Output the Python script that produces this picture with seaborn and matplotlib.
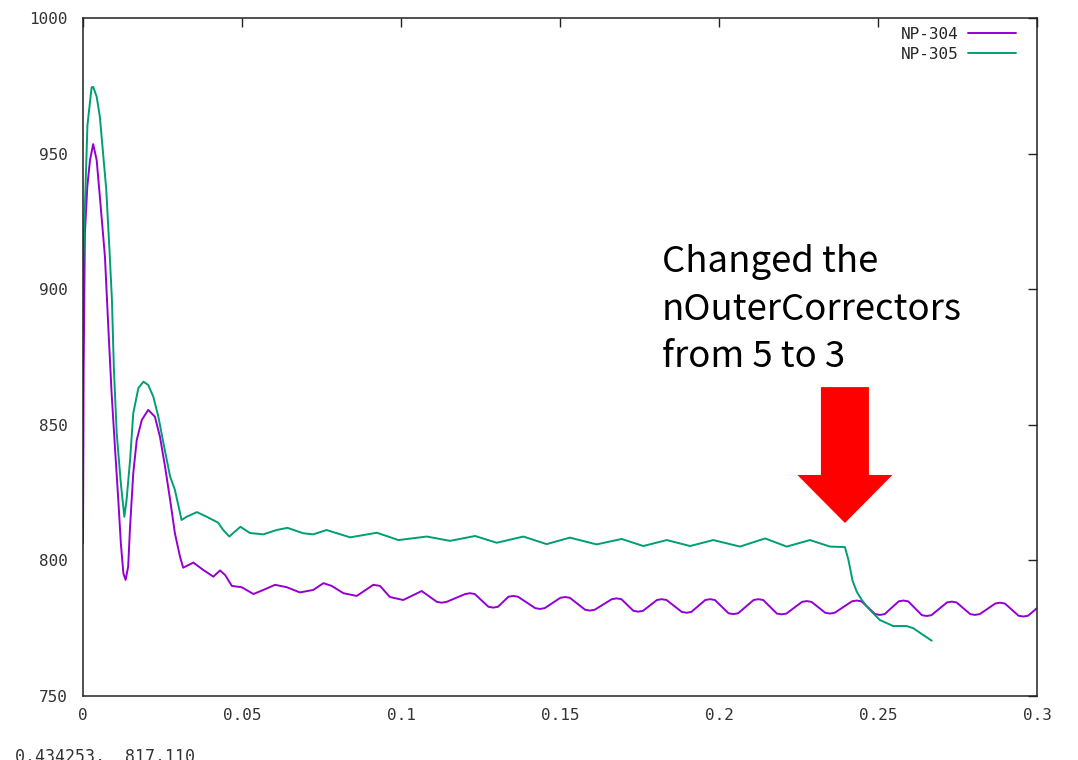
import numpy as np
import pandas as pd
import matplotlib
matplotlib.use("Agg")
import matplotlib.pyplot as plt
from matplotlib.patches import FancyArrow
from matplotlib.lines import Line2D
import seaborn as sns

# ---------------- data ----------------
series_names = ["NP-304", "NP-305"]
series_colors = ["#9400D3", "#009E73"]

np304_x = [0.0000, 0.0002, 0.0006, 0.00135, 0.0022, 0.0032, 0.0043, 0.0053, 0.0069, 0.0080,
           0.0090, 0.0101, 0.0111, 0.0119, 0.0127, 0.0134, 0.0142, 0.0148, 0.0158, 0.0169,
           0.0185, 0.0205, 0.0226, 0.0242, 0.0258, 0.0274, 0.0289, 0.0305, 0.0315, 0.0347,
           0.0378, 0.0410, 0.0431, 0.0447, 0.0468, 0.0499, 0.0536, 0.0567, 0.0604, 0.0641,
           0.0682, 0.0724, 0.0756, 0.0782, 0.0819, 0.0861, 0.0913, 0.0934, 0.0965, 0.1007,
           0.1065,
           0.1113, 0.1128, 0.1143, 0.1202, 0.1217, 0.1232, 0.1275, 0.1290, 0.1305,
           0.1338, 0.1353, 0.1368, 0.1422, 0.1437, 0.1452, 0.1501, 0.1516, 0.1531,
           0.1579, 0.1594, 0.1609, 0.1663, 0.1678, 0.1693, 0.1731, 0.1746, 0.1761,
           0.1805, 0.1820, 0.1835, 0.1883, 0.1898, 0.1913, 0.1957, 0.1972, 0.1987,
           0.2030, 0.2045, 0.2060, 0.2109, 0.2124, 0.2139, 0.2182, 0.2197, 0.2212,
           0.2261, 0.2276, 0.2291, 0.2334, 0.2349, 0.2364, 0.2418, 0.2433, 0.2448,
           0.2491, 0.2506, 0.2521, 0.2565, 0.2580, 0.2595, 0.2638, 0.2653, 0.2668,
           0.2717, 0.2732, 0.2747, 0.2790, 0.2805, 0.2820, 0.2869, 0.2884, 0.2899,
           0.2942, 0.2957, 0.2972, 0.2999]
np304_y = [806.3, 870.0, 920.6, 937.8, 947.6, 953.5, 947.6, 934.1, 912.0, 885.0,
           861.6, 840.7, 822.3, 806.3, 795.2, 792.8, 797.7, 812.4, 832.1, 844.4,
           851.8, 855.5, 853.0, 845.6, 834.6, 822.3, 810.0, 801.4, 797.3, 799.2,
           796.5, 794.0, 796.3, 794.6, 790.6, 790.1, 787.6, 789.1, 791.0, 790.1,
           788.2, 789.1, 791.6, 790.6, 787.9, 786.9, 791.0, 790.6, 786.5, 785.4,
           788.7,
           784.7, 784.4, 784.7, 787.6, 787.9, 787.6, 782.9, 782.6, 782.9,
           786.6, 786.9, 786.6, 782.4, 782.1, 782.4, 786.2, 786.5, 786.2,
           781.8, 781.5, 781.8, 785.7, 786.0, 785.7, 781.4, 781.1, 781.4,
           785.4, 785.7, 785.4, 781.0, 780.7, 781.0, 785.4, 785.7, 785.4,
           780.5, 780.2, 780.5, 785.4, 785.7, 785.4, 780.4, 780.1, 780.4,
           784.7, 785.0, 784.7, 780.7, 780.4, 780.7, 784.9, 785.2, 784.9,
           780.2, 779.9, 780.2, 784.9, 785.2, 784.9, 779.8, 779.5, 779.8,
           784.5, 784.8, 784.5, 780.2, 779.9, 780.2, 784.1, 784.4, 784.1,
           779.6, 779.3, 779.6, 782.3]

np305_x = [0.0000, 0.00005, 0.0006, 0.0014, 0.0027, 0.0032, 0.0043, 0.0053, 0.0073, 0.0083,
           0.0091, 0.0097, 0.0106, 0.0119, 0.0130, 0.0137, 0.0148, 0.0158, 0.0174, 0.0190,
           0.0205, 0.0221, 0.0237, 0.0253, 0.0274, 0.0289, 0.0310, 0.0326, 0.0358, 0.0389,
           0.0425, 0.0441, 0.0460, 0.0495, 0.0525, 0.0567, 0.0609, 0.0643, 0.0693, 0.0724,
           0.0766, 0.0840, 0.0924, 0.0992, 0.1081, 0.1154, 0.1233, 0.1301, 0.1385, 0.1458,
           0.1531, 0.1615, 0.1694, 0.1762, 0.1836, 0.1909, 0.1982, 0.2066, 0.2145, 0.2213,
           0.2286, 0.2349, 0.2396, 0.2407, 0.2420, 0.2433, 0.2449, 0.2465, 0.2475, 0.2506,
           0.2548, 0.2590, 0.2611, 0.2642, 0.2669]
np305_y = [878.8, 908.3, 930.4, 960.5, 974.4, 974.6, 971.0, 963.6, 937.0, 915.0,
           896.0, 871.0, 846.9, 828.4, 816.1, 822.3, 837.0, 854.2, 863.5, 865.9,
           864.7, 860.4, 853.0, 843.2, 830.9, 826.0, 814.9, 816.1, 817.8, 816.1,
           813.9, 811.2, 808.8, 812.4, 810.1, 809.6, 811.2, 812.0, 810.0, 809.6,
           811.2, 808.5, 810.2, 807.5, 808.8, 807.2, 809.0, 806.5, 808.8, 806.0,
           808.4, 805.9, 807.9, 805.3, 807.5, 805.3, 807.5, 805.1, 808.1, 805.1,
           807.5, 805.1, 804.9, 800.2, 792.5, 788.5, 785.4, 783.0, 781.7, 778.0,
           775.8, 775.8, 775.0, 772.5, 770.4]

x_ticks = [0, 0.05, 0.1, 0.15, 0.2, 0.25, 0.3]
x_tick_labels = ["0", "0.05", "0.1", "0.15", "0.2", "0.25", "0.3"]
y_ticks = [750, 800, 850, 900, 950, 1000]
y_tick_labels = ["750", "800", "850", "900", "950", "1000"]

annotation_lines = ["Changed the", "nOuterCorrectors", "from 5 to 3"]
status_text = "0.434253,  817.110"

# annotation arrow (data units)
arrow_x = 0.2396
arrow_tail_y = 863.9
arrow_tip_y = 813.8

# ---------------- figure ----------------
sns.set_theme(style="white")
plt.rcParams["font.family"] = ["DejaVu Sans Mono"]

df = pd.concat([
    pd.DataFrame({"x": np304_x, "y": np304_y, "series": series_names[0]}),
    pd.DataFrame({"x": np305_x, "y": np305_y, "series": series_names[1]}),
], ignore_index=True)

fig = plt.figure(figsize=(10.78, 7.60), dpi=100)
ax = fig.add_axes([83 / 1078, 1 - 696 / 760, (1037 - 83) / 1078, (696 - 18) / 760])

sns.lineplot(data=df, x="x", y="y", hue="series", palette=dict(zip(series_names, series_colors)),
             estimator=None, sort=False, linewidth=1.4, legend=False, ax=ax)

ax.set_xlim(0, 0.3)
ax.set_ylim(750, 1000)
ax.set_xlabel("")
ax.set_ylabel("")
ax.set_xticks(x_ticks)
ax.set_xticklabels(x_tick_labels)
ax.set_yticks(y_ticks)
ax.set_yticklabels(y_tick_labels)
for s in ax.spines.values():
    s.set_color("#222222")
    s.set_linewidth(1.1)
    s.set_visible(True)
ax.tick_params(axis="both", which="major", direction="in", length=6.5, width=1.0,
               color="#222222", top=True, right=True, labelsize=11.5, labelcolor="#333333")
ax.tick_params(axis="y", pad=11)
ax.tick_params(axis="x", pad=9)

handles = [Line2D([], [], color=c, lw=1.4) for c in series_colors]
ax.legend(handles, series_names, loc="upper right", markerfirst=False, frameon=False,
          fontsize=11.5, handlelength=3.0, handletextpad=0.6, labelspacing=0.3,
          borderpad=0, borderaxespad=0, prop={"family": "DejaVu Sans Mono", "size": 11.5},
          bbox_to_anchor=(1016 / 1078, 1 - 27 / 760), bbox_transform=fig.transFigure)

# annotation text
cjk = ["Noto Sans CJK KR", "DejaVu Sans"]
baselines_px = [271.7, 320.0, 366.7]
for line, by in zip(annotation_lines, baselines_px):
    fig.text(662 / 1078, 1 - by / 760, line, fontsize=26.3, family=cjk, fontweight="light",
             ha="left", va="baseline", color="black")

# red block arrow
ax.add_patch(FancyArrow(arrow_x, arrow_tail_y, 0, arrow_tip_y - arrow_tail_y,
                        width=0.0151, head_width=0.0299, head_length=17.7,
                        length_includes_head=True, color="#FF0000", lw=0, clip_on=False,
                        zorder=5))

# status line at the bottom (cut off in the reference)
fig.text(15 / 1078, 1 - 748 / 760, status_text, fontsize=12, color="#333333",
         family="DejaVu Sans Mono", ha="left", va="top")

fig.savefig("out.png", dpi=100)
